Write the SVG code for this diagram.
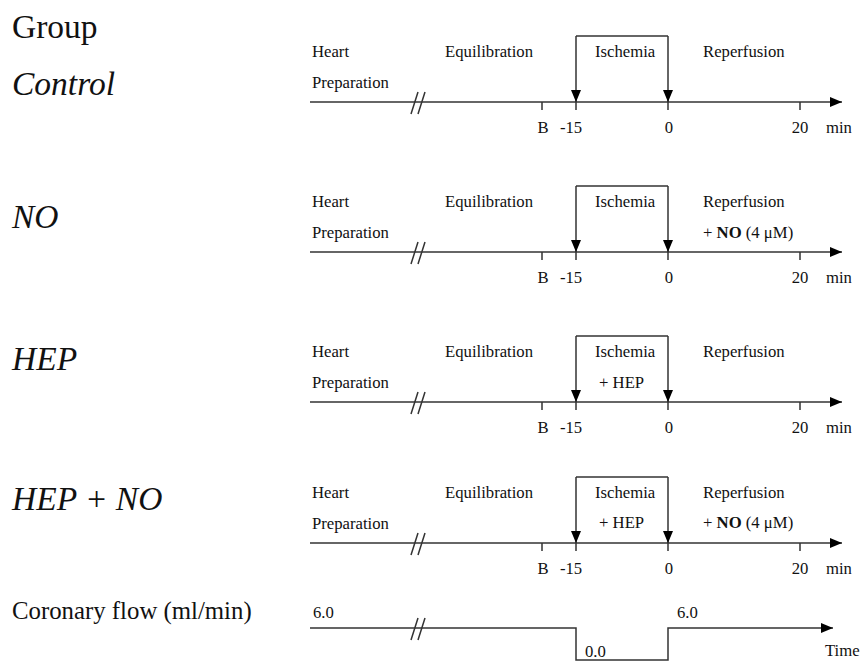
<svg xmlns="http://www.w3.org/2000/svg" width="862" height="662" viewBox="0 0 862 662">
<style>
text{font-family:"Liberation Serif","Times New Roman",serif;fill:#111}
.lbl{font-size:16.7px}
.grp{font-size:33.5px}
.grpi{font-size:33.5px;font-style:italic}
.ln{stroke:#333;stroke-width:1.5;fill:none}
.mid{text-anchor:middle}
</style>
<defs>
<marker id="ah" viewBox="0 0 12 10" refX="12" refY="5" markerWidth="12" markerHeight="10" markerUnits="userSpaceOnUse" orient="auto">
<path d="M0,0 L12,5 L0,10 z" fill="#000"/>
</marker>
<g id="tl">
<text class="lbl" x="312" y="-45">Heart</text>
<text class="lbl" x="312" y="-14">Preparation</text>
<text class="lbl" x="445" y="-45">Equilibration</text>
<text class="lbl" x="595" y="-45">Ischemia</text>
<text class="lbl" x="703" y="-45">Reperfusion</text>
<text class="lbl mid" x="543" y="31">B</text>
<text class="lbl mid" x="571" y="31">-15</text>
<text class="lbl mid" x="669" y="31">0</text>
<text class="lbl mid" x="800" y="31">20</text>
<text class="lbl" x="826" y="31">min</text>
</g>
<g id="tc">
<path class="ln" d="M310,0 H842" marker-end="url(#ah)"/>
<path class="ln" d="M411,12 L418,-10 M418,12 L425,-10"/>
<path class="ln" d="M542,0 V8 M576,0 V8 M668,0 V8 M800,0 V8"/>
<path class="ln" d="M576,-66 H668"/>
<path class="ln" d="M576,-66 V0" marker-end="url(#ah)"/>
<path class="ln" d="M668,-66 V0" marker-end="url(#ah)"/>
</g>
</defs>
<text class="grp" x="12" y="38">Group</text>

<g id="control">
<text class="grpi" x="12" y="95">Control</text>
<use href="#tl" transform="translate(0,102)"/>
</g>
<g id="no">
<text class="grpi" x="12" y="228">NO</text>
<use href="#tl" transform="translate(0,252)"/>
<text class="lbl" x="703" y="238">+ <tspan font-weight="bold">NO</tspan> (4 μM)</text>
</g>
<g id="hep">
<text class="grpi" x="12" y="370">HEP</text>
<use href="#tl" transform="translate(0,402)"/>
<text class="lbl" x="599" y="388">+ HEP</text>
</g>
<g id="hepno">
<text class="grpi" x="12" y="510">HEP + NO</text>
<use href="#tl" transform="translate(0,543)"/>
<text class="lbl" x="599" y="528">+ HEP</text>
<text class="lbl" x="703" y="528">+ <tspan font-weight="bold">NO</tspan> (4 μM)</text>
</g>
<g id="flow">
<text x="12" y="619" style="font-size:24.8px">Coronary flow (ml/min)</text>
<text class="lbl" x="313" y="618">6.0</text>
<text class="lbl" x="585" y="657">0.0</text>
<text class="lbl" x="677" y="618">6.0</text>
<text class="lbl" x="825" y="656">Time</text>
</g>
<g id="connectors">
<use href="#tc" transform="translate(0,102)"/>
<use href="#tc" transform="translate(0,252)"/>
<use href="#tc" transform="translate(0,402)"/>
<use href="#tc" transform="translate(0,543)"/>
<path class="ln" d="M310,628 H576 V660 H668 V628 H833" marker-end="url(#ah)"/>
<path class="ln" d="M411,640 L418,618 M418,640 L425,618"/>
</g>
</svg>
